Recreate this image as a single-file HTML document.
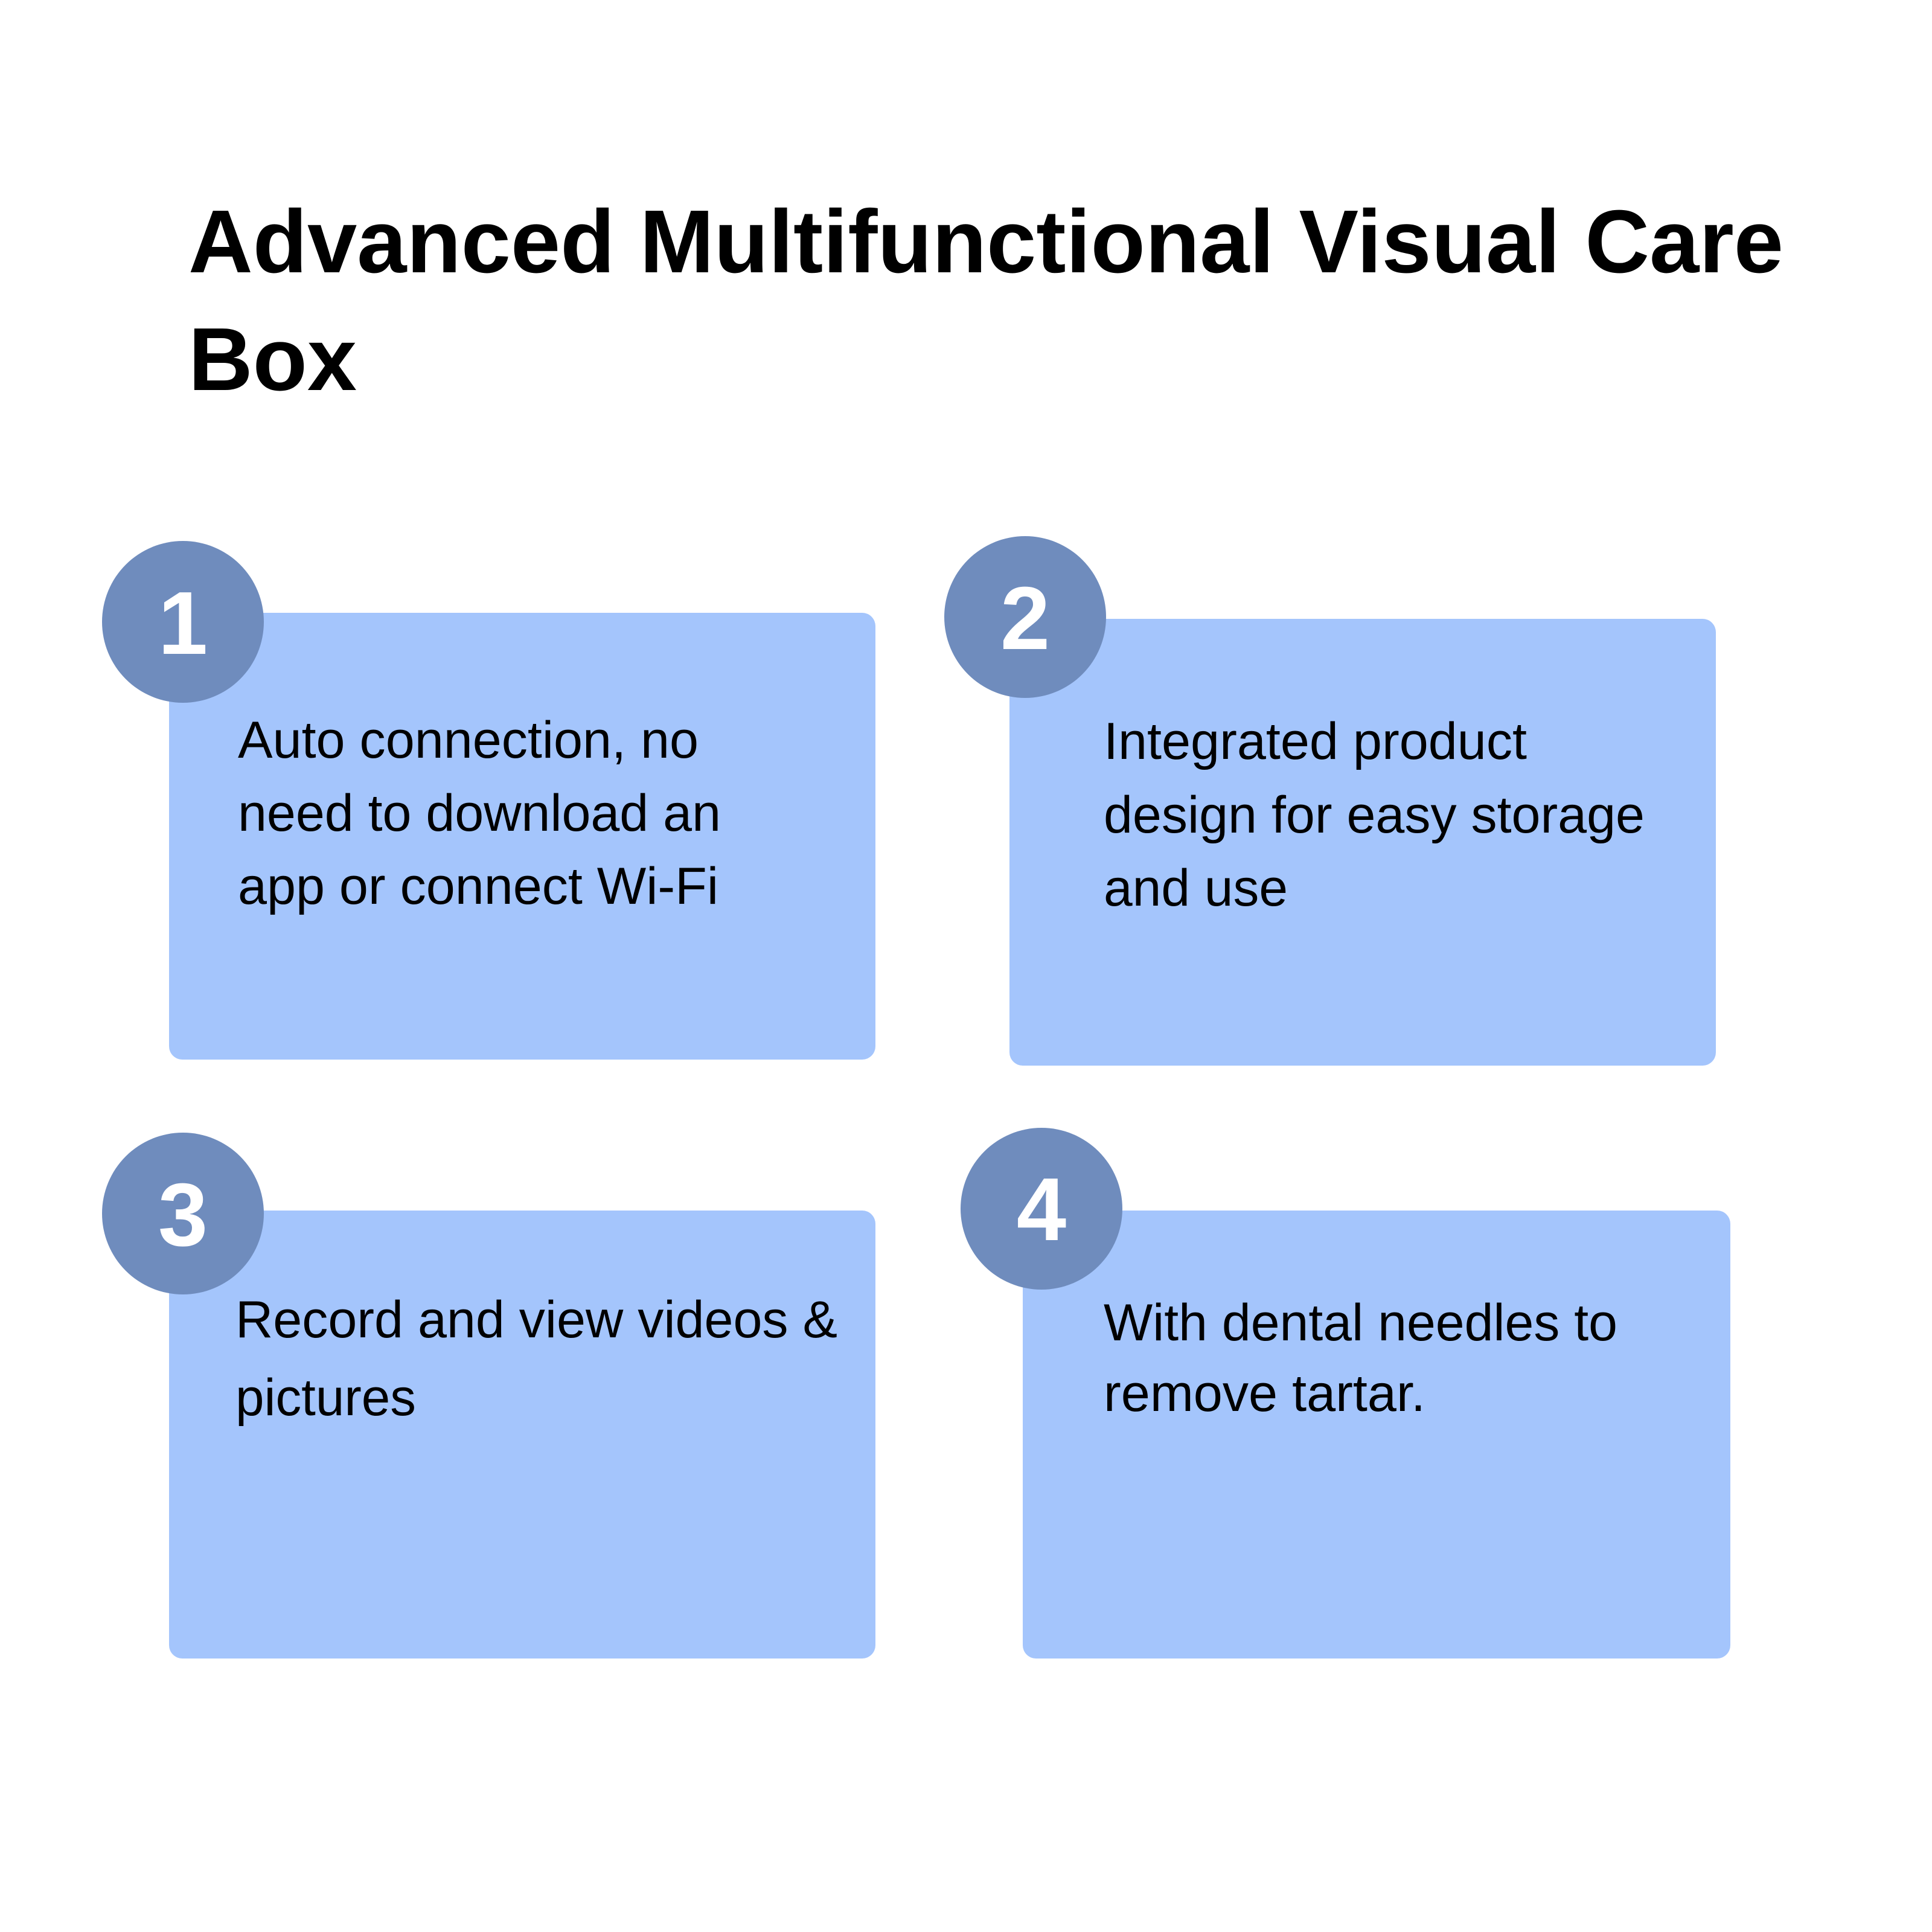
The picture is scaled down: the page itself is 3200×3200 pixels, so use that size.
<!DOCTYPE html>
<html><head><meta charset="utf-8"><style>
html,body{margin:0;padding:0;background:#fff;}
svg{display:block;}
text{font-family:"Liberation Sans",Arial,sans-serif;}
</style></head><body>
<svg width="3200" height="3200" viewBox="0 0 3200 3200" xmlns="http://www.w3.org/2000/svg">
<rect width="3200" height="3200" fill="#fff"/>
<text x="312" y="451" font-size="148" font-weight="bold" fill="#000" textLength="2642" lengthAdjust="spacingAndGlyphs">Advanced Multifunctional Visual Care</text>
<text x="312" y="646" font-size="148" font-weight="bold" fill="#000" textLength="279" lengthAdjust="spacingAndGlyphs">Box</text>

<g fill="#a4c5fc">
<rect x="280" y="1015" width="1170" height="740" rx="22"/>
<rect x="1672" y="1025" width="1170" height="740" rx="22"/>
<rect x="280" y="2005" width="1170" height="742" rx="22"/>
<rect x="1694" y="2005" width="1172" height="742" rx="22"/>
</g>
<g fill="#6f8cbd">
<circle cx="303" cy="1030" r="134"/>
<circle cx="1698" cy="1022" r="134"/>
<circle cx="303" cy="2010" r="134"/>
<circle cx="1725" cy="2002" r="134"/>
</g>
<g fill="#fff" font-size="148" font-weight="bold" text-anchor="middle">
<text x="303" y="1083">1</text>
<text x="1698" y="1075">2</text>
<text x="303" y="2063">3</text>
<text x="1725" y="2054">4</text>
</g>
<g fill="#000" font-size="86">
<text x="394" y="1255" textLength="763" lengthAdjust="spacingAndGlyphs">Auto connection, no</text>
<text x="394" y="1376" textLength="800" lengthAdjust="spacingAndGlyphs">need to download an</text>
<text x="394" y="1497" textLength="796" lengthAdjust="spacingAndGlyphs">app or connect Wi-Fi</text>

<text x="1828" y="1257" textLength="701" lengthAdjust="spacingAndGlyphs">Integrated product</text>
<text x="1828" y="1379" textLength="896" lengthAdjust="spacingAndGlyphs">design for easy storage</text>
<text x="1828" y="1500" textLength="305" lengthAdjust="spacingAndGlyphs">and use</text>

<text x="390" y="2215" textLength="997" lengthAdjust="spacingAndGlyphs">Record and view videos &amp;</text>
<text x="390" y="2344" textLength="299" lengthAdjust="spacingAndGlyphs">pictures</text>

<text x="1828" y="2220" textLength="851" lengthAdjust="spacingAndGlyphs">With dental needles to</text>
<text x="1828" y="2337" textLength="533" lengthAdjust="spacingAndGlyphs">remove tartar.</text>
</g>
</svg>
</body></html>
